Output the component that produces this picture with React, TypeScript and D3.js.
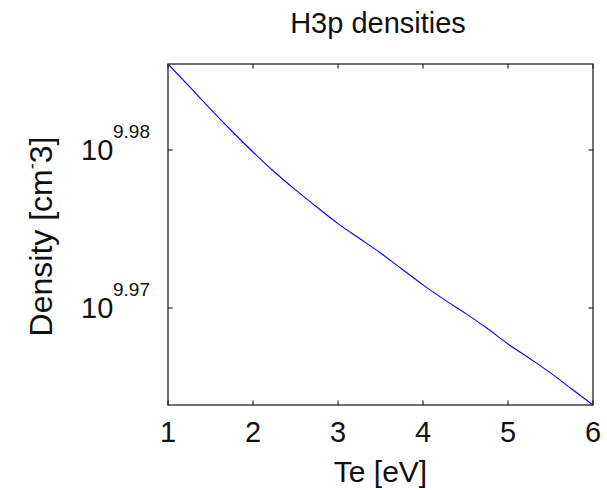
import React from "react";
import * as d3 from "d3";

// Electron temperature samples [eV]
const te: number[] = [
  1.0, 1.25, 1.5, 1.75, 2.0, 2.25, 2.5, 2.75, 3.0, 3.25, 3.5,
  3.75, 4.0, 4.25, 4.5, 4.75, 5.0, 5.25, 5.5, 5.75, 6.0,
];
// log10 of H3p density [cm^-3]
const logDensity: number[] = [
  9.98544, 9.98402, 9.98258, 9.9812, 9.97987, 9.97862, 9.97747, 9.97639,
  9.97534, 9.97441, 9.97348, 9.97247, 9.97146, 9.97053, 9.96966, 9.96873,
  9.96772, 9.96682, 9.96589, 9.96487, 9.96386,
];
const xTicks: number[] = [1, 2, 3, 4, 5, 6];
const yTickExponents: string[] = ["9.97", "9.98"];
const xDomain: [number, number] = [1, 6];
const yLogDomain: [number, number] = [9.96386, 9.98544];

const W = 607;
const H = 490;
const left = 168;
const right = 593;
const top = 64;
const bottom = 405;

export default function App() {
  const x = d3.scaleLinear().domain(xDomain).range([left, right]);
  const y = d3
    .scaleLog()
    .domain([Math.pow(10, yLogDomain[0]), Math.pow(10, yLogDomain[1])])
    .range([bottom, top]);

  const data = te.map((t, i) => ({ t, d: Math.pow(10, logDensity[i]) }));
  const line = d3
    .line<{ t: number; d: number }>()
    .x((p) => x(p.t))
    .y((p) => y(p.d))
    .curve(d3.curveMonotoneX);

  const axisColor = "#262626";
  const font = "Arial, 'Liberation Sans', Helvetica, sans-serif";
  const tickLen = 4.5;

  return (
    <svg
      width={W}
      height={H}
      style={{ position: "absolute", left: 0, top: 0, background: "#fff" }}
      fontFamily={font}
    >
      <rect x={0} y={0} width={W} height={H} fill="#fff" />
      <text x={378} y={33} textAnchor="middle" fontSize={29} fill="#111">
        H3p densities
      </text>

      <path d={line(data) || ""} fill="none" stroke="#0000ff" strokeWidth={1.1} />

      <rect
        x={left}
        y={top}
        width={right - left}
        height={bottom - top}
        fill="none"
        stroke={axisColor}
        strokeWidth={1.3}
      />

      {xTicks.map((t) => (
        <g key={"x" + t}>
          <line x1={x(t)} x2={x(t)} y1={bottom} y2={bottom - tickLen} stroke={axisColor} strokeWidth={1.2} />
          <line x1={x(t)} x2={x(t)} y1={top} y2={top + tickLen} stroke={axisColor} strokeWidth={1.2} />
          <text x={x(t)} y={442} textAnchor="middle" fontSize={29} fill="#111">
            {t}
          </text>
        </g>
      ))}

      {yTickExponents.map((e) => {
        const yy = y(Math.pow(10, parseFloat(e)));
        return (
          <g key={"y" + e}>
            <line x1={left} x2={left + tickLen} y1={yy} y2={yy} stroke={axisColor} strokeWidth={1.2} />
            <line x1={right} x2={right - tickLen} y1={yy} y2={yy} stroke={axisColor} strokeWidth={1.2} />
            <text x={81} y={yy + 10} fontSize={29} fill="#111">
              10
            </text>
            <text x={113} y={yy - 12} fontSize={19} fill="#111">
              {e}
            </text>
          </g>
        );
      })}

      <text x={(left + right) / 2} y={482} textAnchor="middle" fontSize={30} fill="#111">
        Te [eV]
      </text>

      <text
        transform={`translate(52,${(top + bottom) / 2 + 2}) rotate(-90)`}
        textAnchor="middle"
        fontSize={32}
        fill="#111"
      >
        Density [cm
        <tspan fontSize={18} dy={-14}>-</tspan>
        <tspan dy={14}>3]</tspan>
      </text>
    </svg>
  );
}
